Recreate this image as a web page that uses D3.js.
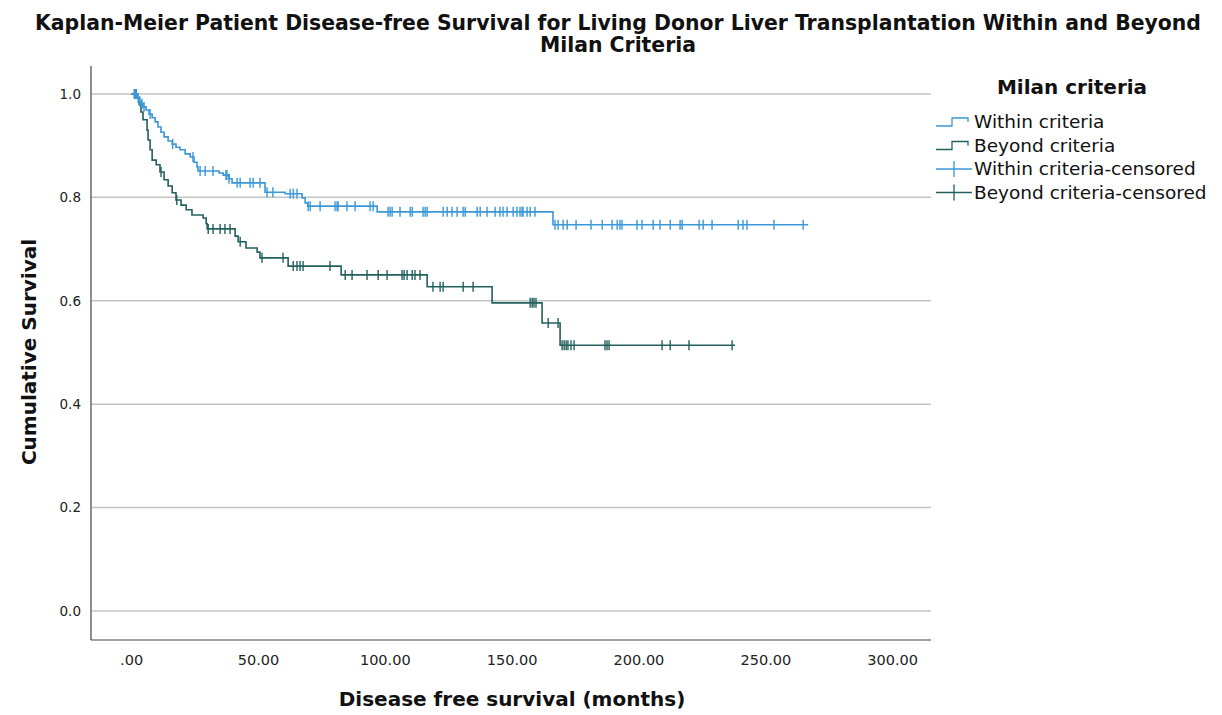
<!DOCTYPE html>
<html>
<head>
<meta charset="utf-8">
<script src="https://cdn.jsdelivr.net/npm/d3@7"></script>
<style>
  body { margin: 0; background: #fff; }
  svg { font-family: "DejaVu Sans", sans-serif; }
</style>
</head>
<body>
<svg id="chart" width="1222" height="715"></svg>
<script>
// Kaplan-Meier step data (months, cumulative survival)
const withinTimes = [0, 2.4, 3.2, 3.9, 4.7, 5.9, 7.1, 8.3, 9.5, 10.6, 11.8, 13.0, 14.6, 16.2, 17.7, 19.3,
  21.3, 23.3, 24.8, 26.0, 26.4, 34.7, 36.3, 38.6, 39.8, 52.8, 60.7, 67.4, 68.6, 69.6, 97.0, 166.3];
const withinSurv = [1, 0.992, 0.986, 0.981, 0.975, 0.969, 0.961, 0.954, 0.946, 0.936, 0.926, 0.917, 0.909,
  0.903, 0.897, 0.892, 0.884, 0.878, 0.868, 0.859, 0.851, 0.847, 0.843, 0.836, 0.828, 0.810, 0.807, 0.799,
  0.789, 0.783, 0.772, 0.747];
const withinEnd = 266.9;
const withinCensored = [1.2, 1.6, 2.0, 2.8, 3.5, 4.3, 5.1, 7.5, 16.4, 24.4, 27.2, 29.2, 32.3, 37.4, 37.8,
  38.6, 41.8, 43.0, 46.9, 48.1, 50.8, 53.6, 55.9, 62.7, 63.9, 65.4, 69.8, 70.6, 74.5, 80.4, 81.2, 81.6,
  85.1, 88.3, 94.2, 95.4, 101.3, 102.1, 102.9, 106.0, 110.0, 110.8, 115.1, 115.9, 116.7, 123.0, 124.6,
  126.5, 128.5, 130.9, 131.7, 136.4, 137.6, 140.3, 143.5, 145.4, 146.6, 148.2, 150.6, 152.1, 153.3, 154.1,
  154.5, 156.1, 157.3, 159.2, 167.1, 168.3, 170.3, 171.9, 175.4, 181.3, 185.7, 189.6, 191.6, 192.7, 193.5,
  199.4, 201.4, 205.8, 208.5, 212.5, 216.4, 217.2, 223.9, 225.5, 229.0, 239.3, 241.2, 242.8, 253.4, 264.9];

const beyondTimes = [0, 2.4, 3.2, 3.9, 4.7, 6.3, 6.7, 7.5, 8.3, 9.9, 11.4, 13.0, 14.6, 16.2, 17.7, 19.7,
  21.7, 24.0, 28.4, 29.6, 30.0, 41.0, 42.2, 45.3, 49.7, 50.8, 61.9, 82.8, 116.7, 142.3, 162.0, 169.1];
const beyondSurv = [1, 0.992, 0.979, 0.965, 0.950, 0.930, 0.911, 0.892, 0.872, 0.863, 0.849, 0.834, 0.822,
  0.809, 0.795, 0.785, 0.776, 0.766, 0.760, 0.749, 0.739, 0.725, 0.714, 0.702, 0.694, 0.683, 0.667, 0.650,
  0.627, 0.596, 0.557, 0.514];
const beyondEnd = 238.1;
const beyondCensored = [1.6, 2.0, 11.8, 18.0, 30.4, 32.3, 35.1, 37.0, 39.0, 43.0, 51.6, 59.9, 63.9, 65.4,
  66.6, 67.8, 78.4, 84.4, 87.1, 93.0, 97.4, 100.9, 106.8, 107.6, 108.8, 110.8, 111.9, 113.9, 119.0, 121.8,
  123.0, 130.9, 134.8, 157.3, 158.1, 158.8, 159.6, 164.4, 168.3, 169.9, 170.7, 171.5, 172.2, 173.4, 174.6,
  186.8, 187.6, 188.4, 209.3, 212.5, 219.9, 236.9];

const xTicks = [0, 50, 100, 150, 200, 250, 300];
const yTicks = [0, 0.2, 0.4, 0.6, 0.8, 1.0];
const legendLabels = ["Within criteria", "Beyond criteria", "Within criteria-censored", "Beyond criteria-censored"];

const withinColor = "#3a98d8";
const beyondColor = "#22605e";

const svg = d3.select("#chart");
const plotLeft = 91, plotRight = 931, plotTop = 66, plotBottom = 640;

const x = d3.scaleLinear().domain([-15.8, 315.3]).range([plotLeft, plotRight]);
const y = d3.scaleLinear().domain([-0.056, 1.054]).range([plotBottom, plotTop]);

// title
svg.append("text")
  .attr("x", 618).attr("y", 30)
  .attr("text-anchor", "middle")
  .attr("font-weight", "bold").attr("font-size", 20.4).attr("fill", "#111")
  .text("Kaplan-Meier Patient Disease-free Survival for Living Donor Liver Transplantation Within and Beyond");
svg.append("text")
  .attr("x", 618).attr("y", 52)
  .attr("text-anchor", "middle")
  .attr("font-weight", "bold").attr("font-size", 20.4).attr("fill", "#111")
  .text("Milan Criteria");

// grid lines
svg.append("g").selectAll("line")
  .data(yTicks).enter().append("line")
  .attr("x1", plotLeft).attr("x2", plotRight)
  .attr("y1", d => y(d)).attr("y2", d => y(d))
  .attr("stroke", "#c4c4c4").attr("stroke-width", 1.5);

// axes
const yAxis = svg.append("g")
  .attr("transform", `translate(${plotLeft},0)`)
  .call(d3.axisLeft(y).tickValues(yTicks).tickSize(0).tickPadding(10).tickFormat(d3.format(".1f")));
const xAxis = svg.append("g")
  .attr("transform", `translate(0,${plotBottom})`)
  .call(d3.axisBottom(x).tickValues(xTicks).tickSize(0).tickPadding(15)
    .tickFormat(d => d === 0 ? ".00" : d3.format(".2f")(d)));
[xAxis, yAxis].forEach(a => {
  a.select(".domain").attr("stroke", "#444").attr("stroke-width", 1.2);
  a.selectAll("text").attr("fill", "#222")
    .attr("font-family", "DejaVu Sans, sans-serif");
});
yAxis.selectAll("text").attr("font-size", 13.5);
xAxis.selectAll("text").attr("font-size", 14.5);
yAxis.select(".domain").attr("d", `M0,${plotTop}V${plotBottom}`);
xAxis.select(".domain").attr("d", `M${plotLeft},0H${plotRight}`);

// axis titles
svg.append("text")
  .attr("x", 512).attr("y", 706)
  .attr("text-anchor", "middle")
  .attr("font-weight", "bold").attr("font-size", 20).attr("fill", "#111")
  .text("Disease free survival (months)");
svg.append("text")
  .attr("transform", "translate(36,352) rotate(-90)")
  .attr("text-anchor", "middle")
  .attr("font-weight", "bold").attr("font-size", 20).attr("fill", "#111")
  .text("Cumulative Survival");

// survival curves
function stepPoints(times, surv, end) {
  const pts = times.map((t, i) => [t, surv[i]]);
  pts.push([end, surv[surv.length - 1]]);
  return pts;
}
function survAt(times, surv, t) {
  let s = surv[0];
  for (let i = 0; i < times.length; i++) if (times[i] <= t) s = surv[i];
  return s;
}
const line = d3.line().x(d => x(d[0])).y(d => y(d[1])).curve(d3.curveStepAfter);

const groups = [
  { times: beyondTimes, surv: beyondSurv, end: beyondEnd, cens: beyondCensored, color: beyondColor },
  { times: withinTimes, surv: withinSurv, end: withinEnd, cens: withinCensored, color: withinColor }
];
groups.forEach(g => {
  svg.append("path")
    .datum(stepPoints(g.times, g.surv, g.end))
    .attr("d", line)
    .attr("fill", "none").attr("stroke", g.color).attr("stroke-width", 1.6);
  svg.append("g").selectAll("line")
    .data(g.cens).enter().append("line")
    .attr("x1", d => x(d)).attr("x2", d => x(d))
    .attr("y1", d => y(survAt(g.times, g.surv, d)) - 5)
    .attr("y2", d => y(survAt(g.times, g.surv, d)) + 5)
    .attr("stroke", g.color).attr("stroke-width", 1.4);
});

// legend
const lg = svg.append("g").attr("transform", "translate(936,0)");
lg.append("text")
  .attr("x", 136).attr("y", 94)
  .attr("text-anchor", "middle")
  .attr("font-weight", "bold").attr("font-size", 20).attr("fill", "#111")
  .text("Milan criteria");
const legColors = [withinColor, beyondColor, withinColor, beyondColor];
legendLabels.forEach((lab, i) => {
  const cy = 122 + i * 23.5;
  const c = legColors[i];
  if (i < 2) {
    lg.append("path")
      .attr("d", `M0,${cy + 4}H16V${cy - 4}H32V${cy}`)
      .attr("fill", "none").attr("stroke", c).attr("stroke-width", 1.3);
  } else {
    lg.append("path")
      .attr("d", `M0,${cy}H36M18,${cy - 8}V${cy + 8}`)
      .attr("fill", "none").attr("stroke", c).attr("stroke-width", 1.3);
  }
  lg.append("text")
    .attr("x", 38).attr("y", cy + 6)
    .attr("font-size", 18.5).attr("fill", "#111")
    .text(lab);
});
</script>
</body>
</html>
